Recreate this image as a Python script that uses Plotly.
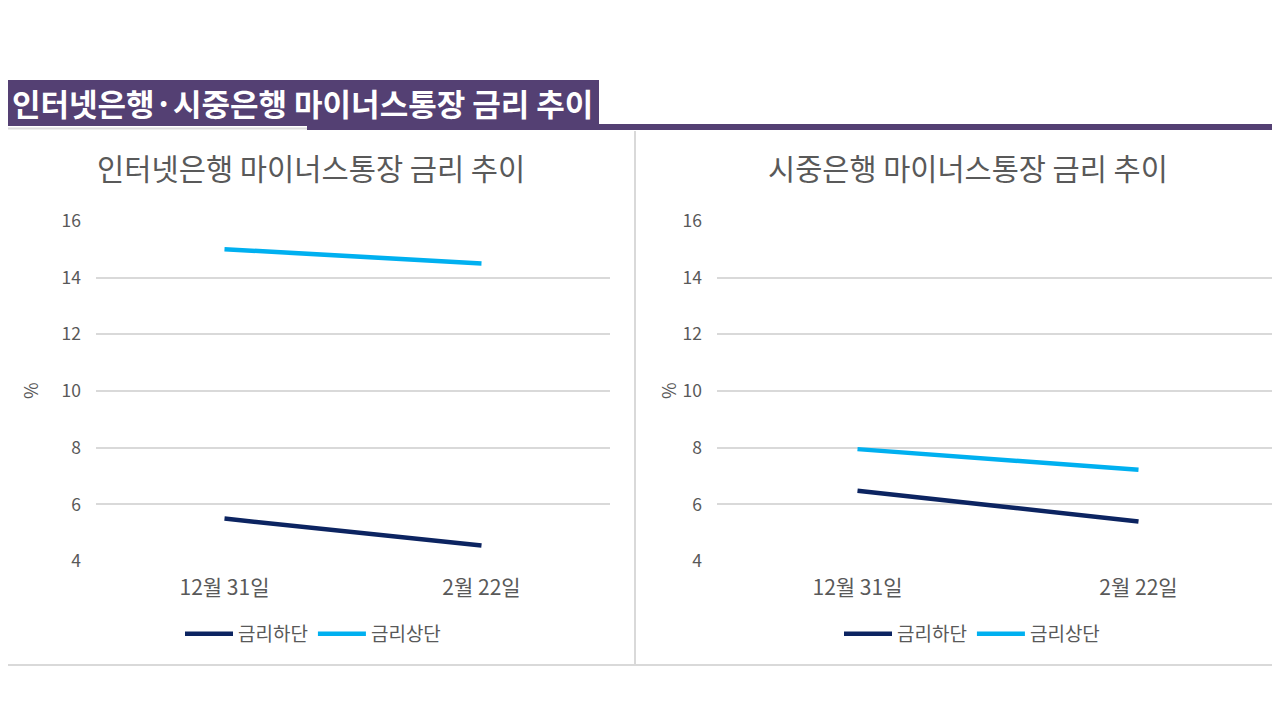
import plotly.graph_objects as go

categories = ["12월 31일", "2월 22일"]
internet_low = [5.5, 4.55]
internet_high = [15.0, 14.5]
commercial_low = [6.48, 5.4]
commercial_high = [7.95, 7.22]
series_names = ["금리하단", "금리상단"]
y_ticks = [4, 6, 8, 10, 12, 14, 16]
main_title = "인터넷은행·시중은행 마이너스통장 금리 추이"
left_title = "인터넷은행 마이너스통장 금리 추이"
right_title = "시중은행 마이너스통장 금리 추이"

W, H = 1280, 720
OFF = 8  # page body margin
NAVY = "#0c2461"
SKY = "#00b0f0"
GRID = "#d9d9d9"
TXT = "#595959"
PURPLE = "#544073"
FONT = "Noto Sans CJK KR"

def px(x):
    return (x - OFF) / W

def py(y):
    return 1 - (y - OFF) / H

fig = go.Figure()

fig.add_trace(go.Scatter(x=categories, y=internet_low, name=series_names[0], mode="lines",
                         line=dict(color=NAVY, width=4.5), xaxis="x", yaxis="y", legend="legend"))
fig.add_trace(go.Scatter(x=categories, y=internet_high, name=series_names[1], mode="lines",
                         line=dict(color=SKY, width=4.5), xaxis="x", yaxis="y", legend="legend"))
fig.add_trace(go.Scatter(x=categories, y=commercial_low, name=series_names[0], mode="lines",
                         line=dict(color=NAVY, width=4.5), xaxis="x2", yaxis="y2", legend="legend2"))
fig.add_trace(go.Scatter(x=categories, y=commercial_high, name=series_names[1], mode="lines",
                         line=dict(color=SKY, width=4.5), xaxis="x2", yaxis="y2", legend="legend2"))

ydom = [py(562), py(220)]
yaxis_common = dict(range=[3.97, 16.03], tickvals=y_ticks, showgrid=True, gridcolor=GRID, gridwidth=1.5,
                    zeroline=False, showline=False, ticks="", ticklabelstandoff=14, automargin=False,
                    tickfont=dict(family=FONT, size=17.5, color=TXT), domain=ydom, fixedrange=True)
xaxis_common = dict(type="category", range=[-0.5, 1.5], showgrid=False, zeroline=False, showline=False,
                    ticks="", ticklabelstandoff=11, automargin=False,
                    tickfont=dict(family=FONT, size=21, color=TXT))

legend_common = dict(orientation="h", xanchor="center", yanchor="middle", bgcolor="rgba(0,0,0,0)",
                     font=dict(family=FONT, size=19, color=TXT), itemwidth=48, tracegroupgap=0)

fig.update_layout(
    template="none",
    width=W, height=H, margin=dict(l=0, r=0, t=0, b=0, pad=0, autoexpand=False),
    paper_bgcolor="white", plot_bgcolor="white",
    xaxis=dict(**xaxis_common, domain=[px(96), px(610)], anchor="y"),
    yaxis=dict(**yaxis_common, anchor="x"),
    xaxis2=dict(**xaxis_common, domain=[px(717), px(1279)], anchor="y2"),
    yaxis2=dict(**yaxis_common, anchor="x2"),
    legend=dict(**legend_common, x=px(313), y=py(634)),
    legend2=dict(**legend_common, x=px(972), y=py(634)),
)

shapes = [
    # title bar
    dict(type="rect", xref="paper", yref="paper", x0=0, x1=px(599), y0=py(126), y1=py(80),
         fillcolor=PURPLE, line=dict(width=0), layer="below"),
    dict(type="rect", xref="paper", yref="paper", x0=px(307), x1=1, y0=py(130), y1=py(124),
         fillcolor=PURPLE, line=dict(width=0), layer="below"),
    dict(type="line", xref="paper", yref="paper", x0=0, x1=px(307), y0=py(128.5), y1=py(128.5),
         line=dict(color="#dcdcdc", width=2)),
    # panel separators
    dict(type="line", xref="paper", yref="paper", x0=px(635), x1=px(635), y0=py(131), y1=py(665),
         line=dict(color=GRID, width=2)),
    dict(type="line", xref="paper", yref="paper", x0=0, x1=1, y0=py(665), y1=py(665),
         line=dict(color=GRID, width=2)),
]
fig.update_layout(shapes=shapes)

annotations = [
    dict(text=main_title, x=px(10), y=py(103), xref="paper", yref="paper", xanchor="left", yanchor="middle",
         showarrow=False, font=dict(family=FONT, size=31, color="white", weight="bold")),
    dict(text=left_title, x=px(311), y=py(167), xref="paper", yref="paper", xanchor="center", yanchor="middle",
         showarrow=False, font=dict(family=FONT, size=29.6, color=TXT)),
    dict(text=right_title, x=px(968), y=py(167), xref="paper", yref="paper", xanchor="center", yanchor="middle",
         showarrow=False, font=dict(family=FONT, size=29.5, color=TXT)),
    dict(text="%", x=px(30), y=py(391), xref="paper", yref="paper", xanchor="center", yanchor="middle",
         textangle=-90, showarrow=False, font=dict(family=FONT, size=18, color=TXT)),
    dict(text="%", x=px(668), y=py(391), xref="paper", yref="paper", xanchor="center", yanchor="middle",
         textangle=-90, showarrow=False, font=dict(family=FONT, size=18, color=TXT)),
]
fig.update_layout(annotations=annotations)

fig.write_html("out.html")
